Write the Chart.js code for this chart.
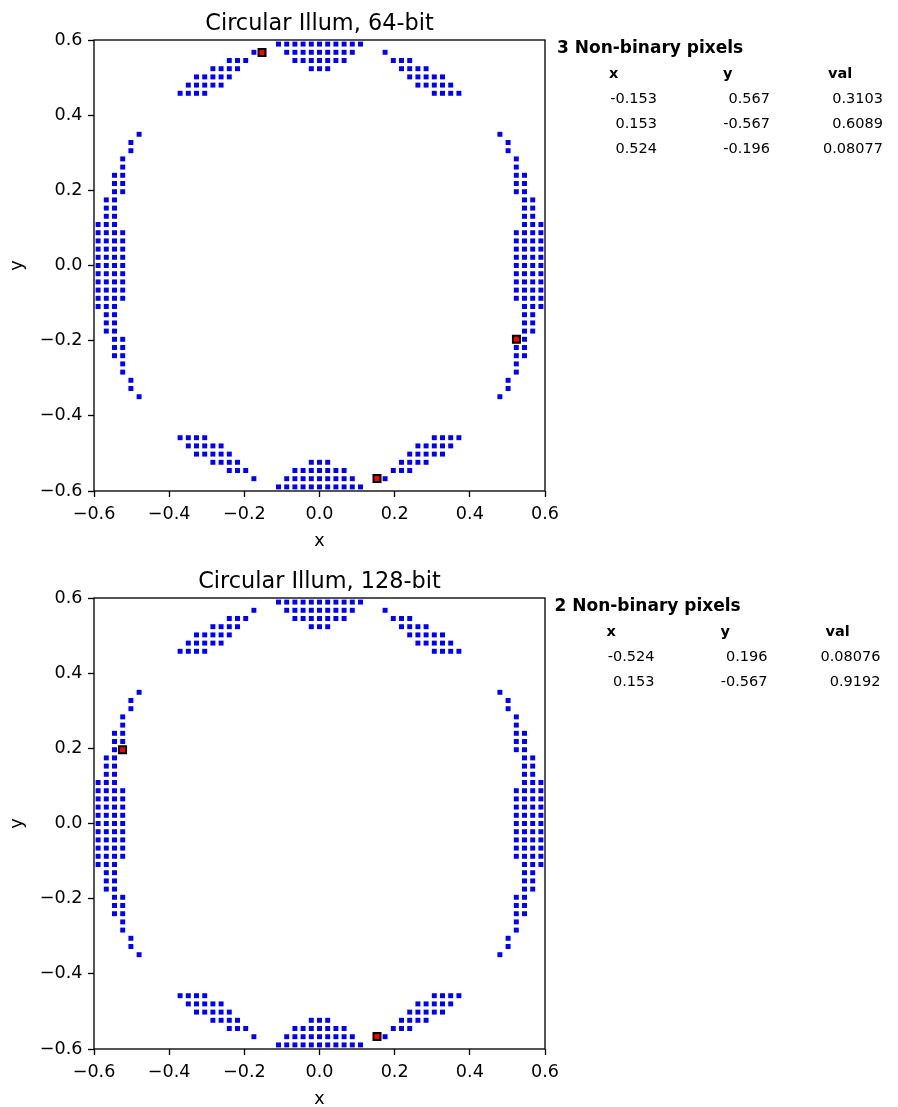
<!DOCTYPE html>
<html>
<head>
<meta charset="utf-8">
<script src="https://cdn.jsdelivr.net/npm/chart.js@4.4.1/dist/chart.umd.min.js"></script>
<style>
  html, body { margin: 0; padding: 0; background: #fff; }
  body { width: 898px; height: 1107px; position: relative; overflow: hidden;
         font-family: "DejaVu Sans", sans-serif; color: #000; }
  .panel { position: absolute; left: 0; width: 590px; }
  .panel canvas { display: block; }
  .txt { position: absolute; white-space: nowrap; line-height: 20px; }
  .head { font-weight: bold; font-size: 17px; }
  .colh { font-weight: bold; font-size: 14.5px; }
  .cell { font-size: 14.5px; width: 120px; text-align: right; }
</style>
</head>
<body>
<div class="panel" style="top:0;height:558px"><canvas id="c64" width="590" height="558"></canvas></div>
<div class="panel" style="top:558px;height:549px"><canvas id="c128" width="590" height="549"></canvas></div>
<div id="tables"></div>
<script>
// Spacing of the 55 x 55 illumination raster spanning [-0.6, 0.6]
const PITCH = 1.2 / 55;

// Fully lit raster cells, grouped in blocks: [colFrom, colTo, rowFrom, rowTo]
const topCap = [
  [-5, 5, 27, 27],
  [-8, -8, 26, 26], [-4, 4, 26, 26], [8, 8, 26, 26],
  [-11, -9, 25, 25], [-3, 3, 25, 25], [9, 11, 25, 25],
  [-13, -10, 24, 24], [-1, 1, 24, 24], [10, 13, 24, 24],
  [-15, -11, 23, 23], [11, 15, 23, 23],
  [-16, -12, 22, 22], [12, 16, 22, 22],
  [-17, -14, 21, 21], [14, 17, 21, 21]
];
const bottomCap = [
  [-5, 5, -27, -27],
  [-8, -8, -26, -26], [-4, 4, -26, -26], [8, 8, -26, -26],
  [-11, -9, -25, -25], [-3, 3, -25, -25], [9, 11, -25, -25],
  [-13, -10, -24, -24], [-1, 1, -24, -24], [10, 13, -24, -24],
  [-15, -11, -23, -23], [11, 15, -23, -23],
  [-16, -12, -22, -22], [12, 16, -22, -22],
  [-17, -14, -21, -21], [14, 17, -21, -21]
];
const leftSide = [
  [-22, -22, 16, 16], [-23, -23, 14, 15], [-24, -24, 12, 13], [-25, -24, 9, 11],
  [-26, -25, 6, 8], [-27, -25, 5, 5], [-27, -24, -4, 4], [-27, -25, -5, -5],
  [-26, -25, -8, -6], [-25, -24, -11, -9], [-24, -24, -13, -12],
  [-23, -23, -15, -14], [-22, -22, -16, -16]
];
const rightSide = [
  [22, 22, 16, 16], [23, 23, 14, 15], [24, 24, 12, 13], [24, 25, 9, 11],
  [25, 26, 6, 8], [25, 27, 5, 5], [24, 27, -4, 4], [25, 27, -5, -5],
  [25, 26, -8, -6], [24, 25, -11, -9], [24, 24, -13, -12],
  [23, 23, -15, -14], [22, 22, -16, -16]
];

// Pixels with fractional illumination
const nb64X = [-0.153, 0.153, 0.524];
const nb64Y = [0.567, -0.567, -0.196];
const nb64Val = ['0.3103', '0.6089', '0.08077'];
const nb128X = [-0.524, 0.153];
const nb128Y = [0.196, -0.567];
const nb128Val = ['0.08076', '0.9192'];

const axisTicks = [-0.6, -0.4, -0.2, 0.0, 0.2, 0.4, 0.6];

const FONT = '"DejaVu Sans", sans-serif';

function litCells(xs, ys) {
  const pts = [];
  for (const blocks of [topCap, bottomCap, leftSide, rightSide]) {
    for (const [c0, c1, r0, r1] of blocks) {
      for (let r = r0; r <= r1; r++) {
        for (let c = c0; c <= c1; c++) {
          const x = c * PITCH, y = r * PITCH;
          const partial = xs.some((nx, i) =>
            Math.abs(nx - x) < PITCH / 2 && Math.abs(ys[i] - y) < PITCH / 2);
          if (!partial) pts.push({ x, y });
        }
      }
    }
  }
  return pts;
}

const fmt = v => (Math.abs(v) < 1e-9 ? 0 : v).toFixed(1).replace('-', '\u2212');

// Axes box, title and axis labels
const decorations = {
  id: 'decorations',
  afterDatasetsDraw(chart) {
    const { ctx, chartArea: a } = chart;
    ctx.save();
    ctx.strokeStyle = '#000';
    ctx.lineWidth = 1.33;
    ctx.strokeRect(a.left, a.top, a.right - a.left, a.bottom - a.top);
    ctx.restore();
  },
  afterDraw(chart, args, opts) {
    const { ctx, chartArea: a } = chart;
    const cx = (a.left + a.right) / 2;
    const cy = (a.top + a.bottom) / 2;
    ctx.save();
    ctx.fillStyle = '#000';
    ctx.textAlign = 'center';
    ctx.textBaseline = 'alphabetic';
    ctx.font = '22.4px ' + FONT;
    ctx.fillText(opts.title, cx, a.top - 10.4);
    ctx.font = '17.6px ' + FONT;
    ctx.fillText('x', cx, a.bottom + 55);
    ctx.translate(21.5, cy);
    ctx.rotate(-Math.PI / 2);
    ctx.fillText('y', 0, 0);
    ctx.restore();
  }
};

function makeChart(id, title, xs, ys, xAxisHeight) {
  const red = xs.map((x, i) => ({ x, y: ys[i] }));
  const axis = (isY) => ({
    type: 'linear',
    min: -0.6,
    max: 0.6,
    afterBuildTicks: s => { s.ticks = axisTicks.map(v => ({ value: v })); },
    afterFit: s => { if (isY) s.width = 94; else s.height = xAxisHeight; },
    ticks: {
      callback: v => fmt(v),
      color: '#000',
      font: { family: FONT, size: 17.6 },
      padding: isY ? 5.5 : 6.5,
      maxRotation: 0,
      autoSkip: false
    },
    grid: {
      drawOnChartArea: false,
      drawTicks: true,
      tickLength: 6,
      tickWidth: 1.33,
      tickColor: '#000',
      color: '#000'
    },
    border: { display: false }
  });
  return new Chart(document.getElementById(id), {
    type: 'scatter',
    data: {
      datasets: [
        {
          data: litCells(xs, ys),
          pointStyle: 'rect',
          pointRadius: 3.5,
          backgroundColor: '#0000ff',
          borderWidth: 0,
          clip: false
        },
        {
          data: red,
          pointStyle: 'rect',
          pointRadius: 4.95,
          backgroundColor: '#ff0000',
          borderColor: '#000000',
          borderWidth: 2,
          clip: false
        }
      ]
    },
    options: {
      responsive: false,
      animation: false,
      events: [],
      layout: { padding: { left: 0, top: 40, right: 45, bottom: 0 } },
      plugins: {
        legend: { display: false },
        tooltip: { enabled: false },
        decorations: { title }
      },
      scales: { x: axis(false), y: axis(true) }
    },
    plugins: [decorations]
  });
}

makeChart('c64', 'Circular Illum, 64-bit', nb64X, nb64Y, 67);
makeChart('c128', 'Circular Illum, 128-bit', nb128X, nb128Y, 58);

// Side tables listing the fractional pixels
function addTable(xs, ys, vals, dx, dy) {
  const host = document.getElementById('tables');
  const add = (cls, text, left, top) => {
    const d = document.createElement('div');
    d.className = 'txt ' + cls;
    d.textContent = text;
    d.style.left = left + 'px';
    d.style.top = top + 'px';
    host.appendChild(d);
  };
  add('head', xs.length + ' Non-binary pixels', 557 + dx, 37.3 + dy);
  add('colh', 'x', 609 + dx, 62.5 + dy);
  add('colh', 'y', 723 + dx, 62.5 + dy);
  add('colh', 'val', 828 + dx, 62.5 + dy);
  xs.forEach((x, i) => {
    const top = 88 + i * 25 + dy;
    add('cell', x.toFixed(3), 657 - 120 + dx, top);
    add('cell', ys[i].toFixed(3), 770 - 120 + dx, top);
    add('cell', vals[i], 883 - 120 + dx, top);
  });
}
addTable(nb64X, nb64Y, nb64Val, 0, 0);
addTable(nb128X, nb128Y, nb128Val, -2.5, 558);
</script>
</body>
</html>
